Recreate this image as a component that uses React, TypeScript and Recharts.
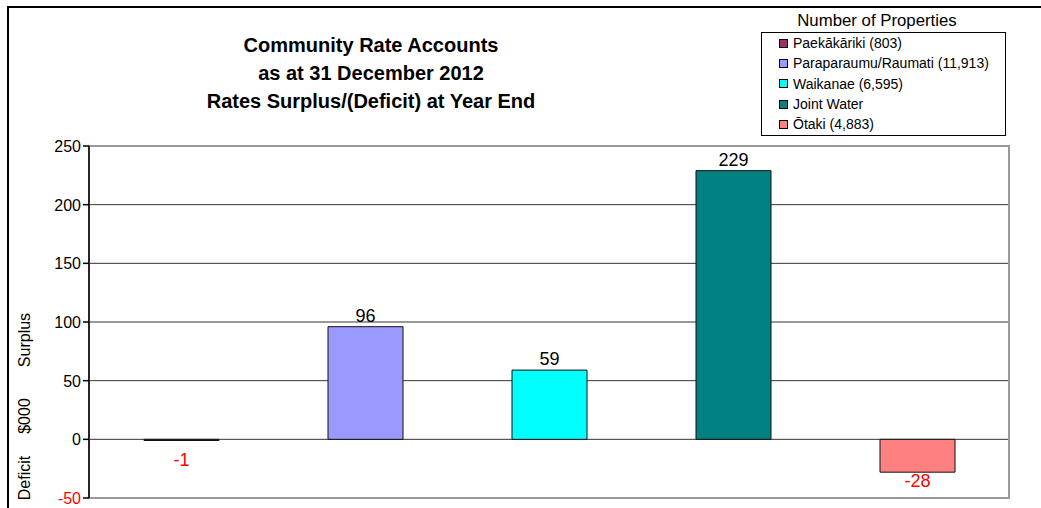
import React from 'react';
import {
  BarChart,
  Bar,
  XAxis,
  YAxis,
  CartesianGrid,
  Cell,
  LabelList,
  Legend,
  ReferenceArea,
} from 'recharts';

const categories = ['Paekākāriki', 'Paraparaumu/Raumati', 'Waikanae', 'Joint Water', 'Ōtaki'];
const legendLabels = [
  'Paekākāriki (803)',
  'Paraparaumu/Raumati (11,913)',
  'Waikanae (6,595)',
  'Joint Water',
  'Ōtaki (4,883)',
];
const values = [-1, 96, 59, 229, -28];
const colors = ['#993366', '#9999FF', '#00FFFF', '#008080', '#FF8080'];
const yTicks = [-50, 0, 50, 100, 150, 200, 250];
const titleLines = ['Community Rate Accounts', 'as at 31 December 2012', 'Rates Surplus/(Deficit) at Year End'];
const legendTitle = 'Number of Properties';
const yLabelParts = ['Deficit', '$000', 'Surplus'];

const data = categories.map((c, i) => ({ name: c, value: values[i] }));

const FONT = '"Liberation Sans", Arial, Helvetica, sans-serif';

const YTick = (props: any) => {
  const { x, y, payload } = props;
  const v = payload.value;
  return (
    <text x={x} y={y} dy={6} textAnchor="end" fontSize={16} fontFamily={FONT} fill={v < 0 ? '#FF0000' : '#000000'}>
      {v}
    </text>
  );
};

const ValueLabel = (props: any) => {
  const { x, y, width, height, value } = props;
  const top = Math.min(y, y + height);
  const bottom = Math.max(y, y + height);
  const cx = x + width / 2;
  if (value < 0) {
    const textTop = Math.max(bottom + 2, top + 14);
    return (
      <text x={cx} y={textTop + 13} textAnchor="middle" fontSize={18} fontFamily={FONT} fill="#FF0000">
        {value}
      </text>
    );
  }
  return (
    <text x={cx} y={top - 5} textAnchor="middle" fontSize={18} fontFamily={FONT} fill="#000000">
      {value}
    </text>
  );
};

const YLabel = () => {
  const centers = [478, 416, 340];
  return (
    <g>
      {yLabelParts.map((t, i) => (
        <text
          key={t}
          x={24}
          y={centers[i]}
          transform={`rotate(-90, 24, ${centers[i]})`}
          textAnchor="middle"
          dominantBaseline="central"
          fontSize={16}
          fontFamily={FONT}
          fill="#000"
        >
          {t}
        </text>
      ))}
    </g>
  );
};

const LegendContent = () => (
  <div style={{ fontFamily: FONT, color: '#000' }}>
    <div style={{ width: 232, textAlign: 'center', fontSize: 16.8, lineHeight: '18px', height: 20, whiteSpace: 'nowrap' }}>
      {legendTitle}
    </div>
    <div
      style={{
        width: 243,
        height: 102,
        border: '1px solid #000',
        boxSizing: 'content-box',
        paddingTop: 0,
      }}
    >
      {legendLabels.map((l, i) => (
        <div
          key={l}
          style={{ display: 'flex', alignItems: 'center', height: 20.3, fontSize: 14, lineHeight: '20.3px', whiteSpace: 'nowrap' }}
        >
          <span
            style={{
              display: 'inline-block',
              width: 7,
              height: 7,
              background: colors[i],
              border: '1px solid #000',
              marginLeft: 17,
              marginRight: 5,
            }}
          />
          <span>{l}</span>
        </div>
      ))}
    </div>
  </div>
);

export default function App() {
  return (
    <div
      style={{
        position: 'absolute',
        left: 0,
        top: 0,
        width: 1041,
        height: 508,
        overflow: 'hidden',
        background: '#fff',
        fontFamily: FONT,
      }}
    >
      <div
        style={{
          position: 'absolute',
          left: 7,
          top: 6,
          width: 1100,
          height: 600,
          borderLeft: '2px solid #000',
          borderTop: '2px solid #000',
        }}
      />
      <div
        style={{
          position: 'absolute',
          left: 171,
          top: 31.4,
          width: 400,
          textAlign: 'center',
          fontWeight: 'bold',
          fontSize: 20,
          lineHeight: '28px',
          color: '#000',
          whiteSpace: 'nowrap',
        }}
      >
        {titleLines.map((t) => (
          <div key={t}>{t}</div>
        ))}
      </div>
      <div style={{ position: 'absolute', left: 0, top: 0 }}>
        <BarChart
          width={1041}
          height={508}
          data={data}
          margin={{ top: 146, right: 32, bottom: 10, left: 9 }}
          style={{ fontFamily: FONT }}
        >
          <CartesianGrid vertical={false} stroke="#333333" strokeWidth={1} />
          <ReferenceArea y1={-50} y2={250} fill="none" stroke="#999999" strokeWidth={2} ifOverflow="visible" />
          <XAxis dataKey="name" hide />
          <YAxis
            width={80}
            domain={[-50, 250]}
            ticks={yTicks}
            interval={0}
            tick={<YTick />}
            tickSize={6}
            tickMargin={2}
            axisLine={{ stroke: '#000', strokeWidth: 1.5 }}
            tickLine={{ stroke: '#000', strokeWidth: 1.5 }}
            label={<YLabel />}
          />
          <Legend
            layout="vertical"
            verticalAlign="middle"
            align="center"
            content={<LegendContent />}
            wrapperStyle={{ position: 'absolute', left: 761, top: 12, width: 250, height: 140 }}
          />
          <Bar dataKey="value" barSize={75} stroke="#111" strokeWidth={1} isAnimationActive={false}>
            {data.map((d, i) => (
              <Cell key={d.name} fill={colors[i]} />
            ))}
            <LabelList dataKey="value" content={<ValueLabel />} />
          </Bar>
        </BarChart>
      </div>
    </div>
  );
}
